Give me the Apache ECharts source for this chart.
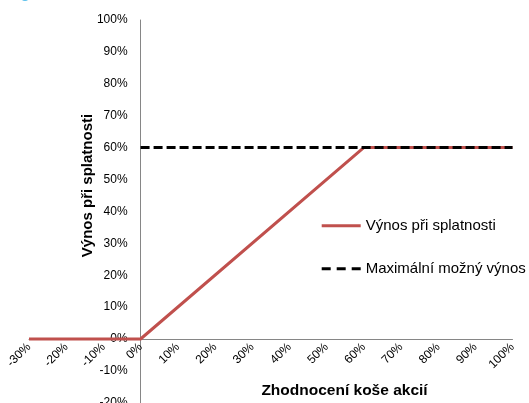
<!DOCTYPE html>
<html>
<head>
<meta charset="utf-8" />
<title>Výnos při splatnosti</title>
<script src="https://cdn.jsdelivr.net/npm/echarts@6/dist/echarts.min.js"></script>
<style>
  html, body { margin: 0; padding: 0; background: #fff; }
  #main { width: 529px; height: 403px; }
</style>
</head>
<body>
<div id="main"></div>
<script>
// data (percent)
var vynosX = [-30, 0, 60, 100];
var vynosY = [0, 0, 60, 60];
var maxX = [0, 100];
var maxY = [60, 60];
var seriesNames = ['Výnos při splatnosti', 'Maximální možný výnos'];

function pairs(xs, ys) {
  return xs.map(function (x, i) { return [x, ys[i]]; });
}

var font = 'Liberation Sans, Arial, sans-serif';
var W = 529, H = 403;
var gLeft = 29, gRight = 16.5, gTop = 20, gBottom = 0.2;
var xMin = -30, xMax = 100, yMin = -20, yMax = 100;
// move the axes onto the zero lines (labels follow)
var yOffset = -((0 - xMin) / (xMax - xMin)) * (W - gLeft - gRight);
var xOffset = -((0 - yMin) / (yMax - yMin)) * (H - gTop - gBottom);

var chart = echarts.init(document.getElementById('main'), null, { renderer: 'canvas' });

chart.setOption({
  animation: false,
  textStyle: { fontFamily: font },
  grid: { left: gLeft, right: gRight, top: gTop, bottom: gBottom, outerBoundsMode: 'none', containLabel: false },
  legend: {
    orient: 'vertical',
    left: 316.7,
    top: 213.3,
    itemWidth: 39,
    itemHeight: 16,
    itemGap: 28,
    textStyle: { fontSize: 15, color: '#000', fontFamily: font },
    data: [
      { name: seriesNames[0], icon: 'path://M0,0h39v3h-39z' },
      { name: seriesNames[1], icon: 'path://M0,0h9v3h-9z M15,0h9v3h-9z M30,0h9v3h-9z' }
    ]
  },
  xAxis: {
    type: 'value',
    min: xMin,
    max: xMax,
    interval: 10,
    offset: xOffset,
    axisLine: { onZero: false, lineStyle: { color: '#868686', width: 1 } },
    axisTick: { show: false },
    splitLine: { show: false },
    axisLabel: {
      rotate: 45,
      margin: 6,
      fontSize: 12,
      color: '#000',
      showMinLabel: true,
      showMaxLabel: true,
      formatter: '{value}%'
    }
  },
  yAxis: {
    type: 'value',
    min: yMin,
    max: yMax,
    interval: 10,
    offset: yOffset,
    axisLine: { show: true, onZero: false, lineStyle: { color: '#868686', width: 1 } },
    axisTick: { show: false },
    splitLine: { show: false },
    axisLabel: { margin: 13, fontSize: 12, color: '#000', formatter: '{value}%' }
  },
  series: [
    {
      name: seriesNames[0],
      type: 'line',
      symbol: 'none',
      z: 2,
      lineStyle: { color: '#C0504D', width: 3 },
      itemStyle: { color: '#C0504D' },
      data: pairs(vynosX, vynosY)
    },
    {
      name: seriesNames[1],
      type: 'line',
      symbol: 'none',
      z: 3,
      lineStyle: { color: '#000', width: 3, type: [9, 4] },
      itemStyle: { color: '#000' },
      data: pairs(maxX, maxY)
    }
  ],
  graphic: [
    {
      type: 'circle',
      shape: { cx: 25, cy: -3, r: 4 },
      style: { fill: '#5bc0eb' }
    },
    {
      type: 'text',
      x: 87.5,
      y: 185.5,
      rotation: Math.PI / 2,
      style: {
        text: 'Výnos při splatnosti',
        font: 'bold 15px ' + font,
        fill: '#000',
        align: 'center',
        verticalAlign: 'middle'
      }
    },
    {
      type: 'text',
      x: 344.5,
      y: 391,
      style: {
        text: 'Zhodnocení koše akcií',
        font: 'bold 15.5px ' + font,
        fill: '#000',
        align: 'center',
        verticalAlign: 'middle'
      }
    }
  ]
});

window.onresize = function () {
  chart.resize();
};
</script>
</body>
</html>
